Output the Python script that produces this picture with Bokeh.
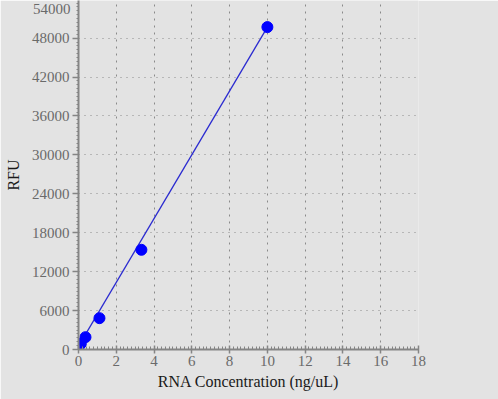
from bokeh.plotting import figure
from bokeh.models import Range1d, FixedTicker, LinearAxis
from bokeh.embed import file_html
from bokeh.resources import INLINE

# Data
conc = [0, 0.041, 0.123, 0.37, 1.11, 3.33, 10]
rfu = [500, 620, 900, 1900, 4830, 15370, 49700]
fit_x = [0, 10]
fit_y = [520, 49700]

x_ticks = [0, 2, 4, 6, 8, 10, 12, 14, 16, 18]
y_ticks = [0, 6000, 12000, 18000, 24000, 30000, 36000, 42000, 48000]
y_top_ticks = [54000]   # shown by the reference nudged inside the top edge
Y_END = 53800
TOP_SHIFT = 1233        # vertical nudge of the top tick label (in value units)

BG = "#e3e3e3"
AXIS = "#858585"
FONT = "Liberation Serif"

p = figure(width=498, height=399, x_range=Range1d(0, 18), y_range=Range1d(0, Y_END),
           output_backend="svg", toolbar_location=None,
           min_border_left=78, min_border_right=80, min_border_top=0, min_border_bottom=50)
p.background_fill_color = BG
p.border_fill_color = BG
p.outline_line_color = None

p.line(fit_x, fit_y, line_color="#2a2ad0", line_width=1.3)
p.scatter(conc, rfu, size=11, fill_color="#0000ff", line_color="#0000ff")

p.extra_y_ranges = {"toplab": Range1d(start=TOP_SHIFT + 200, end=Y_END + TOP_SHIFT + 200)}
top_axis = LinearAxis(y_range_name="toplab", ticker=FixedTicker(ticks=y_top_ticks))
p.add_layout(top_axis, "left")

for ax in (p.xaxis[0], p.yaxis[0], top_axis):
    ax.axis_line_color = AXIS
    ax.axis_line_width = 2
    ax.major_tick_line_color = AXIS
    ax.minor_tick_line_color = AXIS
    ax.major_tick_line_width = 1.5
    ax.major_label_text_font = FONT
    ax.major_label_text_font_size = "15px"
    ax.major_label_text_color = "#6a6a6a"
    ax.axis_label_text_font = FONT
    ax.axis_label_text_font_size = "16px"
    ax.axis_label_text_font_style = "normal"
    ax.axis_label_text_color = "#1a1a1a"

top_axis.axis_line_color = None
top_axis.major_tick_line_color = None
top_axis.minor_tick_line_color = None
top_axis.major_tick_in = 0
top_axis.major_tick_out = 0
top_axis.minor_tick_in = 0
top_axis.minor_tick_out = 0
top_axis.major_label_standoff = -69

p.xaxis[0].ticker = FixedTicker(ticks=x_ticks, minor_ticks=[i * 0.2 for i in range(0, 91)])
p.yaxis[0].ticker = FixedTicker(ticks=y_ticks, minor_ticks=[i * 600 for i in range(0, 90)])
p.xaxis[0].axis_label = "RNA Concentration (ng/uL)"
p.yaxis[0].axis_label = "RFU"

xa = p.xaxis[0]
xa.major_tick_in = 4
xa.major_tick_out = 4
xa.minor_tick_in = 3
xa.minor_tick_out = 0
xa.major_label_standoff = 2
xa.axis_label_standoff = 4

ya = p.yaxis[0]
ya.major_tick_in = 0
ya.major_tick_out = 6
ya.minor_tick_in = 0
ya.minor_tick_out = 2
ya.major_label_standoff = 3
ya.axis_label_standoff = 7

p.xgrid.ticker = FixedTicker(ticks=x_ticks[1:])
p.ygrid.ticker = FixedTicker(ticks=y_ticks[1:])
p.xgrid.grid_line_color = "#8a8a8a"
p.xgrid.grid_line_dash = "2 5"
p.ygrid.grid_line_color = "#8a8a8a"
p.ygrid.grid_line_dash = "1 5"

open("out.html", "w").write(file_html(p, INLINE))
